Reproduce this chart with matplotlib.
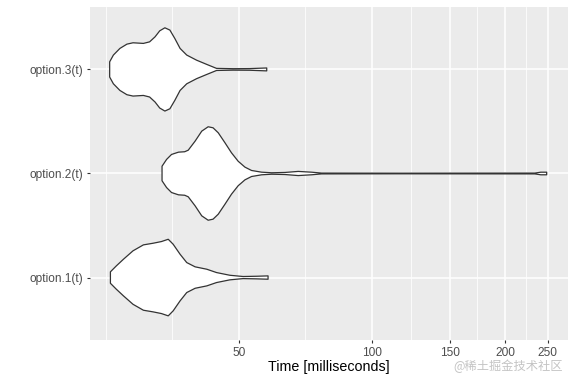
import numpy as np
import matplotlib
matplotlib.use("Agg")
import matplotlib.pyplot as plt

labels = ["option.1(t)", "option.2(t)", "option.3(t)"]

# violin outlines: time (ms) and half width (category units)
opt1_t = [25.6, 26.4, 27.4, 28.8, 30.4, 32.0, 33.4, 34.6, 35.5, 36.8, 38.1, 39.8,
          42.3, 44.5, 47.7, 51.1, 54.8, 58.2]
opt1_w = [0.055, 0.112, 0.176, 0.257, 0.314, 0.330, 0.346, 0.368, 0.320, 0.224,
          0.144, 0.103, 0.080, 0.048, 0.022, 0.010, 0.0125, 0.016]

opt2_t = [33.5, 34.3, 35.2, 36.5, 37.7, 38.4, 39.8, 41.2, 42.6, 43.7, 44.9, 46.5,
          48.1, 49.8, 51.6, 53.4, 56.3, 59.3, 63.6, 68.1, 73.0, 76.9, 115.7,
          233.6, 241.0, 248.5]
opt2_w = [0.070, 0.135, 0.183, 0.205, 0.209, 0.224, 0.311, 0.407, 0.449, 0.439,
          0.391, 0.295, 0.199, 0.118, 0.061, 0.029, 0.0125, 0.007, 0.010, 0.020,
          0.0125, 0.004, 0.003, 0.004, 0.0125, 0.0125]

opt3_t = [25.5, 26.0, 26.9, 27.9, 28.8, 30.4, 31.4, 32.3, 33.1, 34.0, 34.9, 35.8,
          36.8, 38.1, 40.1, 42.3, 44.5, 48.5, 52.9, 57.8]
opt3_w = [0.073, 0.138, 0.202, 0.243, 0.256, 0.250, 0.265, 0.313, 0.371, 0.400,
          0.378, 0.298, 0.202, 0.138, 0.089, 0.048, 0.010, 0.007, 0.008, 0.014]

x_breaks = [50, 100, 150, 200, 250]
x_minor = [25, 35.36, 70.71, 122.47, 173.21, 223.61]

plt.rcParams["font.family"] = ["Liberation Sans", "DejaVu Sans"]

fig = plt.figure(figsize=(5.76, 3.84), dpi=100)
ax = fig.add_axes([0.156, 0.1146, 0.83, 0.8672])
ax.set_facecolor("#EBEBEB")
ax.set_xscale("log")
ax.set_xlim(23.0, 277.6)
ax.set_ylim(0.4, 3.6)

for v in x_minor:
    ax.axvline(v, color="white", lw=0.55, zorder=0)
for v in x_breaks:
    ax.axvline(v, color="white", lw=1.1, zorder=0)
for k in range(1, 4):
    ax.axhline(k, color="white", lw=1.1, zorder=0)

for k, (t, w) in enumerate([(opt1_t, opt1_w), (opt2_t, opt2_w), (opt3_t, opt3_w)]):
    t = np.array(t)
    w = np.array(w)
    xs = np.concatenate([t, t[::-1]])
    ys = np.concatenate([k + 1 + w, k + 1 - w[::-1]])
    ax.fill(xs, ys, facecolor="white", edgecolor="#333333", lw=0.9,
            joinstyle="round", zorder=2)

ax.xaxis.set_minor_locator(matplotlib.ticker.NullLocator())
ax.set_xticks(x_breaks)
ax.set_xticklabels([str(b) for b in x_breaks])
ax.set_yticks([1, 2, 3])
ax.set_yticklabels(labels)
ax.tick_params(axis="both", length=2.5, width=0.8, color="#333333",
               labelcolor="#4D4D4D", labelsize=8.6, pad=2.5)
for s in ax.spines.values():
    s.set_visible(False)

ax.set_xlabel("Time [milliseconds]", fontsize=10.3, color="black", labelpad=1)

fig.text(0.978, 0.028, "@稀土掘金技术社区", ha="right", va="bottom", fontsize=8.8,
         color="#C4C4C4", family=["Noto Sans CJK SC", "DejaVu Sans"])

fig.savefig("out.png", dpi=100)
